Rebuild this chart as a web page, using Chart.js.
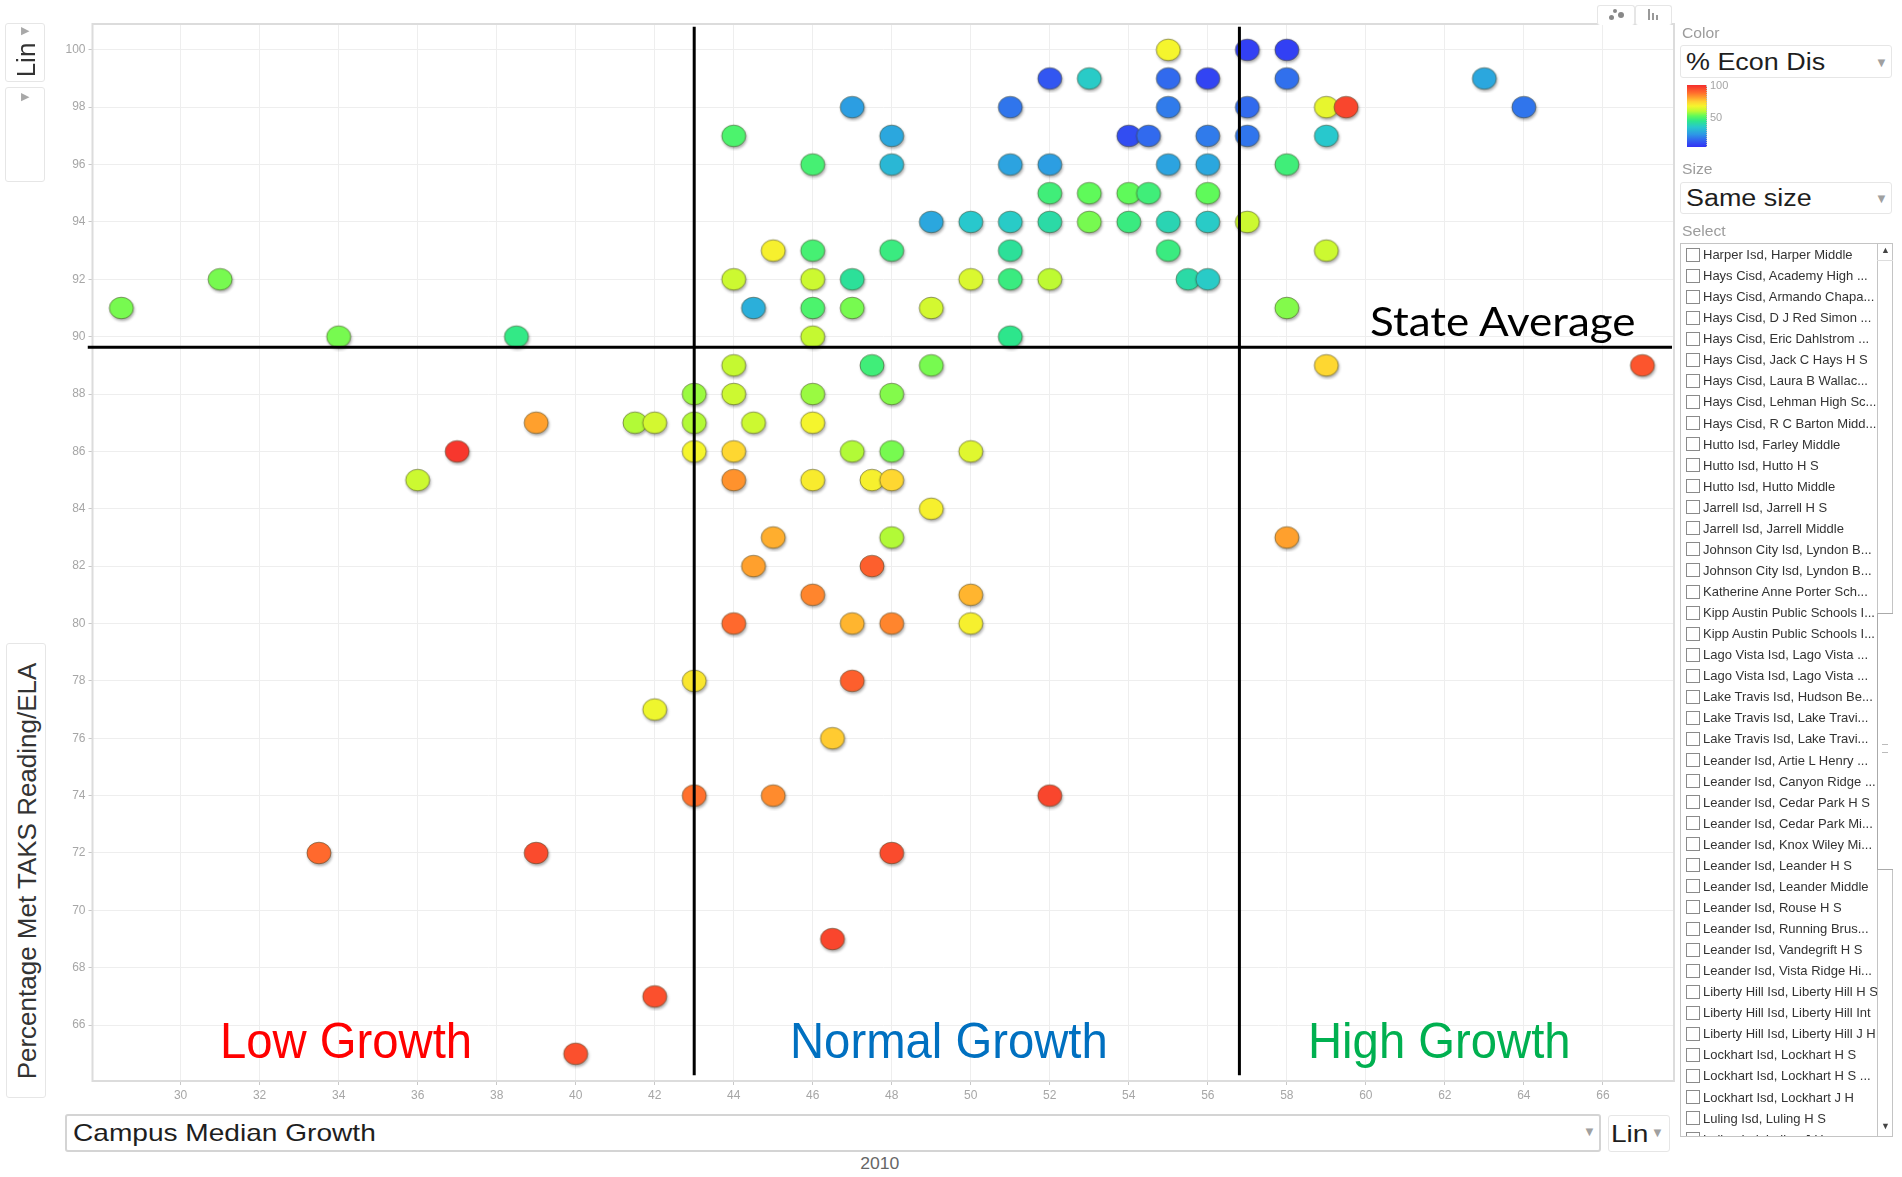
<!DOCTYPE html>
<html>
<head>
<meta charset="utf-8">
<title>Campus Median Growth vs TAKS Reading</title>
<script src="https://cdn.jsdelivr.net/npm/chart.js@4.4.1/dist/chart.umd.min.js"></script>
<style>
  body { margin: 0; background: #fff; font-family: "Liberation Sans", Arial, sans-serif; }
  #wrap { position: absolute; left: 0; top: 0; width: 1687px; height: 1111px; }
  .box { position: absolute; border: 1px solid #e6e6e6; border-radius: 3px; background: #fff; box-sizing: border-box; }
  .lbl { position: absolute; color: #9c9c9c; font-size: 14px; transform: scaleX(1.12); transform-origin: left; }
  .seltxt { position: absolute; font-size: 24px; color: #1e1e1e; white-space: nowrap; transform: scaleX(1.17); transform-origin: left; }
  .arr { position: absolute; color: #a0a0a0; font-size: 13px; }
  .tri { position: absolute; color: #a8a8a8; font-size: 11px; }
  .note { position: absolute; font-size: 50px; white-space: nowrap; line-height: 1; transform: scaleX(0.945); transform-origin: left top; }
  #list { position: absolute; left: 1680px; top: 243px; width: 213px; height: 894px; border: 1px solid #c4c4c4; box-sizing: border-box; overflow: hidden; }
  .row { height: 21.07px; display: flex; align-items: center; font-size: 13px; color: #333; white-space: nowrap; }
  .cb { width: 12px; height: 12px; border: 1px solid #8a8a8a; margin: 0 3px 0 5px; flex: none; }
</style>
</head>
<body>
<div id="wrap"><canvas id="chart"></canvas></div>

<!-- annotations -->
<div class="note" style="left:220px; top:1016px; color:#ff0000;">Low Growth</div>
<div class="note" style="left:790px; top:1016px; color:#0070c0;">Normal Growth</div>
<div class="note" style="left:1308px; top:1016px; color:#00b050;">High Growth</div>
<div id="stateAvg" style="position:absolute; left:1370px; top:301px; font-family:Lato, sans-serif; font-size:40px; line-height:1; color:#000; white-space:nowrap; transform:scaleX(1.1); transform-origin:left top;">State Average</div>

<!-- left controls -->
<div class="box" style="left:5px; top:23px; width:40px; height:59px;"></div>
<div class="tri" style="left:21px; top:24px;">&#9654;</div>
<div style="position:absolute; left:26px; top:60px; font-size:26px; color:#333; transform:translate(-50%,-50%) rotate(-90deg);">Lin</div>
<div class="box" style="left:5px; top:87px; width:40px; height:95px;"></div>
<div class="tri" style="left:21px; top:90px;">&#9654;</div>
<div class="box" style="left:6px; top:643px; width:40px; height:455px;"></div>
<div style="position:absolute; left:27px; top:871px; font-size:26px; color:#333; white-space:nowrap; transform:translate(-50%,-50%) rotate(-90deg);">Percentage Met TAKS Reading/ELA</div>

<!-- bottom controls -->
<div class="box" style="left:65px; top:1114px; width:1536px; height:38px; border:2px solid #d4d4d4;"></div>
<div class="seltxt" style="left:73px; top:1119px;">Campus Median Growth</div>
<div class="arr" style="left:1583px; top:1124px;">&#9660;</div>
<div class="box" style="left:1608px; top:1115px; width:62px; height:37px;"></div>
<div class="seltxt" style="left:1611px; top:1120px;">Lin</div>
<div class="arr" style="left:1651px; top:1125px;">&#9660;</div>
<div style="position:absolute; left:862px; top:1155px; font-size:16px; color:#666; transform:scaleX(1.1);">2010</div>

<!-- top tabs -->
<div class="box" style="left:1597px; top:5px; width:38px; height:20px; border-bottom:none;"></div>
<div class="box" style="left:1635px; top:5px; width:37px; height:20px; border-bottom:none;"></div>
<div style="position:absolute; left:1609px; top:15px; width:5px; height:5px; border-radius:3px; background:#888;"></div>
<div style="position:absolute; left:1613px; top:9px; width:4px; height:4px; border-radius:2px; background:#888;"></div>
<div style="position:absolute; left:1618px; top:12px; width:6px; height:6px; border-radius:3px; background:#888;"></div>
<div style="position:absolute; left:1648px; top:9px; width:2px; height:11px; background:#999;"></div>
<div style="position:absolute; left:1652px; top:13px; width:2px; height:7px; background:#999;"></div>
<div style="position:absolute; left:1656px; top:15px; width:2px; height:5px; background:#999;"></div>

<!-- right panel -->
<div class="lbl" style="left:1682px; top:25px;">Color</div>
<div class="box" style="left:1680px; top:45px; width:212px; height:33px;"></div>
<div class="seltxt" style="left:1686px; top:49px; font-size:23px;">% Econ Dis</div>
<div class="arr" style="left:1875px; top:55px;">&#9660;</div>
<canvas id="colorbar" width="20" height="62" style="position:absolute; left:1687px; top:85px;"></canvas>
<div style="position:absolute; left:1706px; top:85px; width:4px; height:62px; border-left:1px dotted #bbb;"></div>
<div style="position:absolute; left:1710px; top:79px; font-size:11px; color:#a5a5a5;">100</div>
<div style="position:absolute; left:1710px; top:111px; font-size:11px; color:#a5a5a5;">50</div>
<div class="lbl" style="left:1682px; top:161px;">Size</div>
<div class="box" style="left:1680px; top:182px; width:212px; height:32px;"></div>
<div class="seltxt" style="left:1686px; top:185px; font-size:23px;">Same size</div>
<div class="arr" style="left:1875px; top:191px;">&#9660;</div>
<div class="lbl" style="left:1682px; top:223px;">Select</div>
<div id="list"></div>
<div style="position:absolute; left:1877px; top:243px; width:16px; height:894px; border-left:1px solid #c4c4c4; box-sizing:border-box;"></div>
<div style="position:absolute; left:1877px; top:243px; width:16px; height:18px; border-bottom:1px solid #ddd; box-sizing:border-box;"></div>
<div class="arr" style="left:1881px; top:245px; font-size:9px; color:#444;">&#9650;</div>
<div style="position:absolute; left:1877px; top:613px; width:16px; height:257px; border:1px solid #aaa; border-right:none; box-sizing:border-box; background:#fff;"></div>
<div style="position:absolute; left:1882px; top:744px; width:6px; height:7px; border-top:1px solid #bbb; border-bottom:1px solid #bbb;"></div>
<div class="arr" style="left:1881px; top:1121px; font-size:9px; color:#444;">&#9660;</div>

<script>
// ---- data ----
const xTicks = [30, 32, 34, 36, 38, 40, 42, 44, 46, 48, 50, 52, 54, 56, 58, 60, 62, 64, 66];
const yTicks = [66, 68, 70, 72, 74, 76, 78, 80, 82, 84, 86, 88, 90, 92, 94, 96, 98, 100];

// campus median growth (x)
const growth = [
  55, 57, 58,
  52, 53, 55, 56, 58, 63,
  47, 51, 55, 57, 59, 59.5, 64,
  44, 48, 54, 54.5, 56, 57, 59,
  46, 48, 51, 52, 55, 56, 58,
  52, 53, 54, 54.5, 56,
  49, 50, 51, 52, 53, 54, 55, 56, 57,
  45, 46, 48, 51, 55, 59,
  31, 44, 46, 47, 50, 51, 52, 55.5, 56,
  28.5, 44.5, 46, 47, 49, 58,
  34, 38.5, 46, 51,
  44, 47.5, 49, 59, 67,
  43, 44, 46, 48,
  39, 41.5, 42, 43, 44.5, 46,
  37, 43, 44, 47, 48, 50,
  36, 44, 46, 47.5, 48,
  49,
  45, 48, 58,
  44.5, 47.5,
  46, 50,
  44, 47, 48, 50,
  43, 47,
  42,
  46.5,
  43, 45, 52,
  33.5, 39, 48,
  46.5,
  42,
  40
];
// percentage met TAKS reading/ELA (y)
const reading = [
  100, 100, 100,
  99, 99, 99, 99, 99, 99,
  98, 98, 98, 98, 98, 98, 98,
  97, 97, 97, 97, 97, 97, 97,
  96, 96, 96, 96, 96, 96, 96,
  95, 95, 95, 95, 95,
  94, 94, 94, 94, 94, 94, 94, 94, 94,
  93, 93, 93, 93, 93, 93,
  92, 92, 92, 92, 92, 92, 92, 92, 92,
  91, 91, 91, 91, 91, 91,
  90, 90, 90, 90,
  89, 89, 89, 89, 89,
  88, 88, 88, 88,
  87, 87, 87, 87, 87, 87,
  86, 86, 86, 86, 86, 86,
  85, 85, 85, 85, 85,
  84,
  83, 83, 83,
  82, 82,
  81, 81,
  80, 80, 80, 80,
  78, 78,
  77,
  76,
  74, 74, 74,
  72, 72, 72,
  69,
  67,
  65
];
// % economically disadvantaged (colour)
const econDis = [
  66, 3, 3,
  8, 33, 12, 4, 13, 24,
  22, 14, 15, 12, 64, 95, 14,
  47, 24, 6, 12, 15, 14, 32,
  46, 28, 23, 22, 23, 24, 45,
  45, 50, 50, 45, 50,
  24, 32, 33, 38, 52, 44, 36, 33, 60,
  67, 46, 44, 40, 44, 60,
  52, 60, 60, 40, 62, 44, 58, 38, 33,
  52, 26, 47, 52, 61, 53,
  52, 43, 59, 42,
  59, 45, 52, 72, 92,
  55, 60, 55, 53,
  80, 57, 61, 57, 60, 66,
  98, 66, 72, 57, 52, 63,
  60, 82, 68, 67, 72,
  67,
  78, 57, 80,
  80, 90,
  84, 77,
  88, 77, 84, 67,
  69, 90,
  65,
  74,
  87, 83, 95,
  88, 94, 94,
  95,
  93,
  93
];

// reference lines
const lowGrowthCut = 43;
const highGrowthCut = 56.8;
const stateAverage = 89.63;

const schoolNames = [
  'Harper Isd, Harper Middle', 'Hays Cisd, Academy High ...', 'Hays Cisd, Armando Chapa...',
  'Hays Cisd, D J Red Simon ...', 'Hays Cisd, Eric Dahlstrom ...', 'Hays Cisd, Jack C Hays H S',
  'Hays Cisd, Laura B Wallac...', 'Hays Cisd, Lehman High Sc...', 'Hays Cisd, R C Barton Midd...',
  'Hutto Isd, Farley Middle', 'Hutto Isd, Hutto H S', 'Hutto Isd, Hutto Middle',
  'Jarrell Isd, Jarrell H S', 'Jarrell Isd, Jarrell Middle', 'Johnson City Isd, Lyndon B...',
  'Johnson City Isd, Lyndon B...', 'Katherine Anne Porter Sch...', 'Kipp Austin Public Schools I...',
  'Kipp Austin Public Schools I...', 'Lago Vista Isd, Lago Vista ...', 'Lago Vista Isd, Lago Vista ...',
  'Lake Travis Isd, Hudson Be...', 'Lake Travis Isd, Lake Travi...', 'Lake Travis Isd, Lake Travi...',
  'Leander Isd, Artie L Henry ...', 'Leander Isd, Canyon Ridge ...', 'Leander Isd, Cedar Park H S',
  'Leander Isd, Cedar Park Mi...', 'Leander Isd, Knox Wiley Mi...', 'Leander Isd, Leander H S',
  'Leander Isd, Leander Middle', 'Leander Isd, Rouse H S', 'Leander Isd, Running Brus...',
  'Leander Isd, Vandegrift H S', 'Leander Isd, Vista Ridge Hi...', 'Liberty Hill Isd, Liberty Hill H S',
  'Liberty Hill Isd, Liberty Hill Int', 'Liberty Hill Isd, Liberty Hill J H', 'Lockhart Isd, Lockhart H S',
  'Lockhart Isd, Lockhart H S ...', 'Lockhart Isd, Lockhart J H', 'Luling Isd, Luling H S',
  'Luling Isd, Luling J H'
];

// blue -> green -> yellow -> red
const colorStops = [
  [0, [50, 50, 245]], [10, [50, 95, 240]], [20, [45, 150, 230]], [32, [40, 200, 205]],
  [42, [45, 230, 140]], [50, [95, 250, 90]], [58, [190, 250, 50]], [66, [245, 245, 45]],
  [73, [255, 210, 50]], [80, [255, 160, 45]], [88, [255, 105, 45]], [100, [245, 45, 45]]
];

function econColor(v) {
  for (let i = 1; i < colorStops.length; i++) {
    if (v <= colorStops[i][0]) {
      const a = colorStops[i - 1], b = colorStops[i];
      const t = (v - a[0]) / (b[0] - a[0]);
      const c = a[1].map((k, j) => Math.round(k + (b[1][j] - k) * t));
      return 'rgb(' + c.join(',') + ')';
    }
  }
  return 'rgb(' + colorStops[colorStops.length - 1][1].join(',') + ')';
}

// slightly wide bubble with a soft shadow, like the motion chart
const dotCache = {};
function dotImage(color) {
  if (dotCache[color]) return dotCache[color];
  const c = document.createElement('canvas');
  c.width = 32; c.height = 30;
  const g = c.getContext('2d');
  g.save();
  g.shadowColor = 'rgba(0,0,0,0.35)';
  g.shadowBlur = 3; g.shadowOffsetX = 1; g.shadowOffsetY = 2;
  g.beginPath();
  g.ellipse(16, 15, 12, 10.8, 0, 0, Math.PI * 2);
  g.fillStyle = color;
  g.fill();
  g.restore();
  g.lineWidth = 1;
  g.strokeStyle = 'rgba(70,70,40,0.55)';
  g.stroke();
  dotCache[color] = c;
  return c;
}

// colour legend
(function () {
  const cb = document.getElementById('colorbar');
  const g = cb.getContext('2d');
  const grad = g.createLinearGradient(0, cb.height, 0, 0);
  colorStops.forEach(s => grad.addColorStop(s[0] / 100, 'rgb(' + s[1].join(',') + ')'));
  g.fillStyle = grad;
  g.fillRect(0, 0, cb.width, cb.height);
})();

// school list
const list = document.getElementById('list');
schoolNames.forEach(name => {
  const row = document.createElement('div');
  row.className = 'row';
  row.innerHTML = '<div class="cb"></div><span>' + name + '</span>';
  list.appendChild(row);
});

const framePlugin = {
  id: 'frame',
  beforeDatasetsDraw(chart) {
    const { ctx, chartArea: a } = chart;
    ctx.save();
    ctx.strokeStyle = '#dcdcdc';
    ctx.lineWidth = 2;
    ctx.strokeRect(a.left, a.top, a.right - a.left, a.bottom - a.top);
    ctx.restore();
  }
};

const lineTop = 100.8, lineBottom = 64.25;
const refLine = pts => ({
  type: 'line', data: pts, borderColor: '#000', borderWidth: 3,
  pointRadius: 0, fill: false, order: 1, clip: false
});

new Chart(document.getElementById('chart'), {
  type: 'scatter',
  data: {
    datasets: [
      {
        label: 'Campuses',
        data: growth.map((x, i) => ({ x: x, y: reading[i] })),
        pointStyle: ctx => dotImage(econColor(econDis[ctx.dataIndex] || 50)),
        pointRadius: 12,
        order: 2
      },
      refLine([{ x: lowGrowthCut, y: lineTop }, { x: lowGrowthCut, y: lineBottom }]),
      refLine([{ x: highGrowthCut, y: lineTop }, { x: highGrowthCut, y: lineBottom }]),
      refLine([{ x: 27.65, y: stateAverage }, { x: 67.75, y: stateAverage }])
    ]
  },
  plugins: [framePlugin],
  options: {
    responsive: true,
    maintainAspectRatio: false,
    animation: false,
    layout: { padding: { top: 24, right: 6, left: 0, bottom: 0 } },
    plugins: { legend: { display: false }, tooltip: { enabled: false } },
    scales: {
      x: {
        type: 'linear', min: 27.77, max: 67.8,
        afterBuildTicks: s => { s.ticks = xTicks.map(v => ({ value: v })); },
        afterFit: s => { s.height = 30; },
        grid: { color: '#eeeeee', tickColor: '#c8c8c8', tickLength: 4 },
        border: { color: '#dcdcdc', width: 2 },
        ticks: { color: '#a6a6a6', font: { size: 12, family: '"Liberation Sans", Arial' }, padding: 3, maxRotation: 0, autoSkip: false }
      },
      y: {
        type: 'linear', min: 64.05, max: 100.9,
        afterBuildTicks: s => { s.ticks = yTicks.map(v => ({ value: v })); },
        afterFit: s => { s.width = 92.5; },
        grid: { color: '#eeeeee', tickColor: '#c8c8c8', tickLength: 4 },
        border: { color: '#dcdcdc', width: 1 },
        ticks: { color: '#a6a6a6', font: { size: 12, family: '"Liberation Sans", Arial' }, padding: 3, autoSkip: false }
      }
    }
  }
});
</script>
</body>
</html>
